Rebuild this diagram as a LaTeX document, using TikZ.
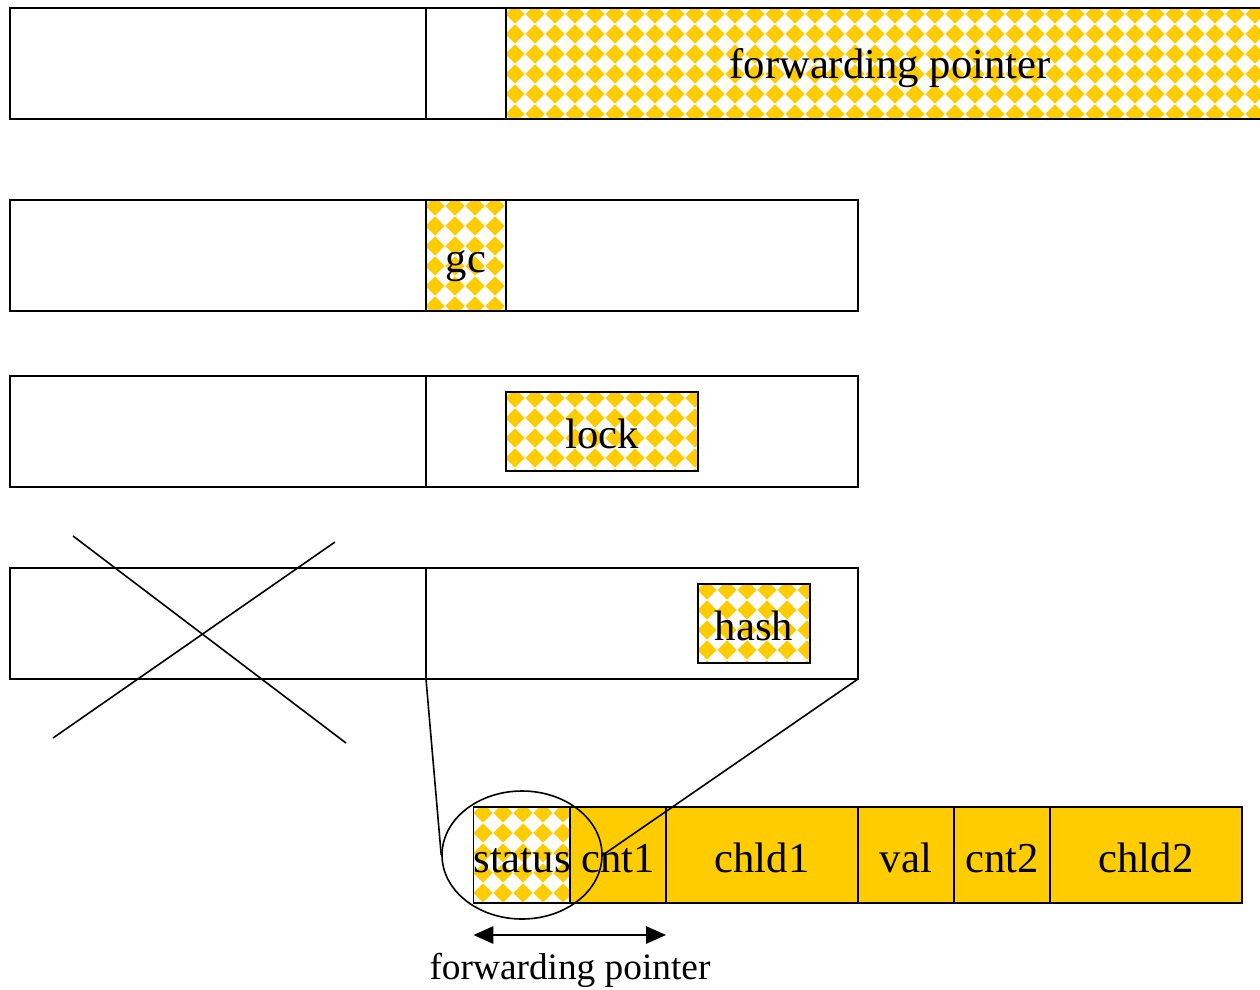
\documentclass[tikz,border=0pt]{standalone}
\usepackage{fontspec}
\setmainfont{Liberation Serif}
\usetikzlibrary{shapes.geometric,arrows.meta,calc}
\definecolor{ycol}{HTML}{FFCC00}
\newcommand\chkfill[4]{%
  \begin{scope}
    \clip (#1,#2) rectangle (#3,#4);
    \pgfmathtruncatemacro\cnx{(#3-#1)/20+1}
    \pgfmathtruncatemacro\cny{(#4-#2)/20+1}
    \foreach \i in {0,...,\cnx}{\foreach \j in {0,...,\cny}{
      \fill[ycol,shift={({#1+9+20*\i},{#2+6+20*\j})}] (-9.6,0)--(0,-9.6)--(9.6,0)--(0,9.6)--cycle;}}
  \end{scope}}
\begin{document}
\begin{tikzpicture}[x=0.75pt,y=-0.75pt,
  txt/.style={font=\fontsize{32}{38}\selectfont,text height=26pt,text depth=0.5pt},
  box/.style={draw,line width=1.2pt,inner sep=0pt,outer sep=0pt,txt},
  sz/.style 2 args={minimum width=#1*0.75pt,minimum height=#2*0.75pt},
  yb/.style={box,fill=ycol},
  ln/.style={line width=1.2pt},
  arr/.style={line width=1.5pt,{Triangle[length=15pt,width=13pt]}-{Triangle[length=15pt,width=13pt]}}]
\useasboundingbox (0,0) rectangle (1260,989);
% patterns
\chkfill{506}{8}{1262}{119}
\chkfill{426}{200}{506}{311}
\chkfill{506}{392}{698}{471}
\chkfill{698}{584}{810}{663}
% row 1
\node[box,sz={416}{111}] (r1a) at (218,63.5) {};
\node[box,sz={80}{111}] (r1b) at (466,63.5) {};
\node[box,sz={756}{111}] (r1c) at (884,63.5) {};
\node[txt,inner sep=0pt] (fp1) at (890,61) {forwarding pointer};
% row 2
\node[box,sz={848}{111}] (r2) at (434,255.5) {};
\node[box,sz={80}{111}] (gc) at (466,255.5) {gc};
% row 3
\node[box,sz={416}{111}] (r3a) at (218,431.5) {};
\node[box,sz={432}{111}] (r3b) at (642,431.5) {};
\node[box,sz={192}{79}] (lock) at (602,431.5) {lock};
% row 4
\node[box,sz={416}{111}] (r4a) at (218,623.5) {};
\node[box,sz={432}{111}] (r4b) at (642,623.5) {};
\node[box,sz={112}{79}] (hash) at (754,623.5) {hash};
% cross
\coordinate (c1) at (73,536);
\coordinate (c2) at (346,743);
\coordinate (c3) at (335,542);
\coordinate (c4) at (53,738);
\draw[ln] (c1) -- (c2);
\draw[ln] (c3) -- (c4);
% bottom row
\chkfill{474}{807}{570}{903}
\node[box,sz={96}{96}] (status) at (522,855) {status};
\node[yb,sz={96}{96}] (cnt1) at (618,855) {cnt1};
\node[yb,sz={192}{96}] (chld1) at (762,855) {chld1};
\node[yb,sz={96}{96}] (val) at (906,855) {val};
\node[yb,sz={96}{96}] (cnt2) at (1002,855) {cnt2};
\node[yb,sz={192}{96}] (chld2) at (1146,855) {chld2};
\node[draw,ellipse,line width=1.2pt,inner sep=0pt,sz={160}{128}] (ell) at (522,855) {};
\draw[ln] (r4b.south west) -- (ell.west);
\draw[ln] (r4b.south east) -- (ell.east);
\draw[arr] ($(status.south west)+(0,32)$) -- ($(cnt1.south east)+(0,32)$);
\node[font=\fontsize{28}{33}\selectfont,text height=22pt,text depth=0pt,inner sep=0pt] (fp2) at (570,965) {forwarding pointer};
\end{tikzpicture}
\end{document}
